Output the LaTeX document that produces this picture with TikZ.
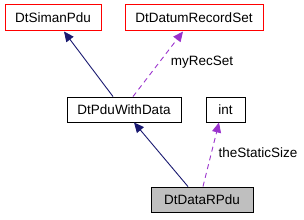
\documentclass[tikz,border=0pt]{standalone}
\usepackage{fontspec}
\setmainfont{Liberation Sans}
\usetikzlibrary{arrows.meta}
\definecolor{navyline}{HTML}{191970}
\definecolor{purpline}{HTML}{9A32CD}
\definecolor{grayfill}{HTML}{BFBFBF}
\definecolor{redline}{RGB}{255,0,0}
\tikzset{
  boxfont/.style={font=\fontsize{13.5}{15}\selectfont},
  cls/.style={draw=black, fill=white, line width=0.9pt, inner sep=0pt, boxfont},
  ext/.style={draw=redline, text=black, fill=white, line width=1pt, inner sep=0pt, boxfont},
  cur/.style={cls, fill=grayfill},
  inherit/.style={draw=navyline, line width=0.9pt, -{Triangle[length=10pt,width=9pt,fill=navyline]}},
  usage/.style={draw=purpline, line width=0.9pt, dash pattern=on 5pt off 4pt, -{Triangle[length=10pt,width=9pt,fill=purpline]}},
  lbl/.style={boxfont, inner sep=0pt}
}
\begin{document}
\begin{tikzpicture}[x=1pt, y=-1pt]
\useasboundingbox (0,0) rectangle (304,219);
\node[ext, minimum width=96pt, minimum height=26pt] (siman) at (53,18) {DtSimanPdu};
\node[ext, minimum width=138pt, minimum height=26pt] (datum) at (194,18) {DtDatumRecordSet};
\node[cls, minimum width=114pt, minimum height=25pt] (pwd) at (124,109.5) {DtPduWithData};
\node[cls, minimum width=39pt, minimum height=25pt] (int) at (225.5,109.5) {int};
\node[cur, minimum width=102pt, minimum height=25pt] (rpdu) at (202,199.5) {DtDataRPdu};
\draw[inherit] ([xshift=-11pt]pwd.north) -- ([xshift=11pt]siman.south);
\draw[usage] ([xshift=9pt]pwd.north) -- ([xshift=-11pt]datum.south);
\draw[inherit] ([xshift=-14pt]rpdu.north) -- ([xshift=10pt]pwd.south);
\draw[usage] ([xshift=1pt]rpdu.north) -- ([xshift=-6.5pt]int.south);
\node[lbl] (l1) at (202,62) {myRecSet};
\node[lbl] (l2) at (258,153) {theStaticSize};
\end{tikzpicture}
\end{document}
